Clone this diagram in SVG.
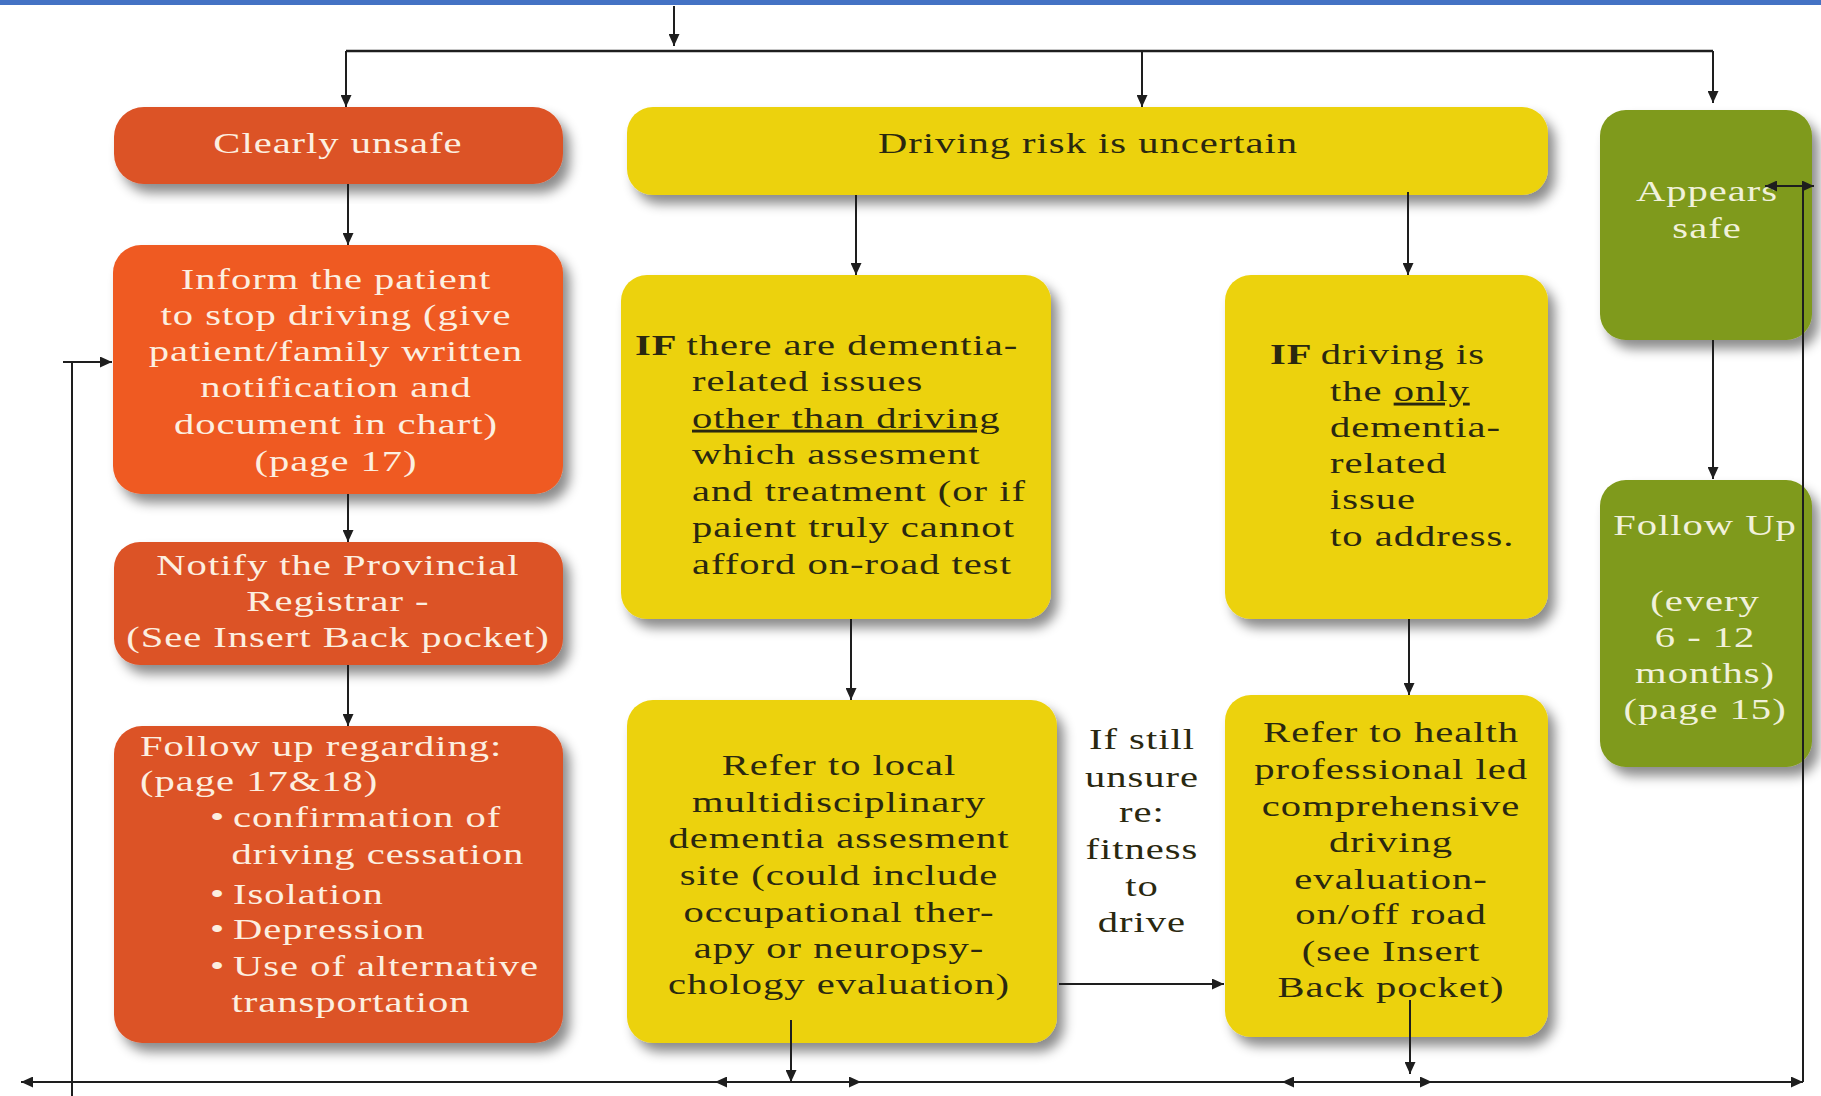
<svg xmlns="http://www.w3.org/2000/svg" width="1821" height="1096" viewBox="0 0 1821 1096">
<style>
.t{font-family:"Liberation Serif","Times New Roman",serif;font-size:29px;letter-spacing:0.7px}
.c{text-anchor:middle}
.lt{fill:#FCEFE0}
.gl{fill:#F1F1DA}
.dk{fill:#2A2810}
.b{font-weight:bold}
.u{text-decoration:underline}
.ln{fill:none;stroke:#1E1E1E;stroke-width:2}
.ar{marker-end:url(#ah)}
.box{filter:url(#sh)}
.or1{fill:#DC5327}
.or2{fill:#EF5A22}
.ye{fill:#ECD20F}
.gr{fill:#7F9A1A}
</style>
<defs>
<filter id="sh" x="-10%" y="-10%" width="130%" height="135%">
<feDropShadow dx="7" dy="9" stdDeviation="6" flood-color="#000" flood-opacity="0.45"/>
</filter>
<marker id="ah" markerUnits="userSpaceOnUse" markerWidth="12" markerHeight="11" refX="12" refY="5.5" orient="auto">
<path d="M0,0 L12,5.5 L0,11 z" fill="#1E1E1E"/>
</marker>
</defs>
<rect x="0" y="0" width="1821" height="1096" fill="#FFFFFF"/>
<rect x="0" y="0" width="1821" height="5" fill="#4472C4"/>

<g id="n-unsafe">
<rect class="box or1" x="114" y="107" width="449" height="77" rx="30"/>
<g transform="scale(1.4,1)"><text class="t c lt" x="241.4" y="153">Clearly unsafe</text></g>
</g>

<g id="n-uncertain">
<rect class="box ye" x="627" y="107" width="921" height="88" rx="26"/>
<g transform="scale(1.4,1)"><text class="t c dk" x="777.1" y="153">Driving risk is uncertain</text></g>
</g>

<g id="n-appears">
<rect class="box gr" x="1600" y="110" width="212" height="230" rx="26"/>
<g transform="scale(1.4,1)"><text class="t c gl" x="1219.3" y="201">Appears</text><text class="t c gl" x="1219.3" y="238">safe</text></g>
</g>

<g id="n-inform">
<rect class="box or2" x="113" y="245" width="450" height="249" rx="28"/>
<g transform="scale(1.4,1)" class="t c lt">
<text x="240" y="289">Inform the patient</text>
<text x="240" y="325">to stop driving (give</text>
<text x="240" y="361">patient/family written</text>
<text x="240" y="397">notification and</text>
<text x="240" y="434">document in chart)</text>
<text x="240" y="471">(page 17)</text>
</g>
</g>

<g id="n-notify">
<rect class="box or1" x="114" y="542" width="449" height="123" rx="26"/>
<g transform="scale(1.4,1)" class="t c lt">
<text x="241.4" y="575">Notify the Provincial</text>
<text x="241.4" y="611">Registrar -</text>
<text x="241.4" y="647">(See Insert Back pocket)</text>
</g>
</g>

<g id="n-followup-unsafe">
<rect class="box or1" x="114" y="726" width="449" height="317" rx="28"/>
<g transform="scale(1.4,1)" class="t lt">
<text x="100" y="756">Follow up regarding:</text>
<text x="100" y="791">(page 17&amp;18)</text>
<text y="827"><tspan x="150">•</tspan><tspan x="166.4">confirmation of</tspan></text>
<text x="165.3" y="864">driving cessation</text>
<text y="904"><tspan x="150">•</tspan><tspan x="166.4">Isolation</tspan></text>
<text y="939"><tspan x="150">•</tspan><tspan x="166.4">Depression</tspan></text>
<text y="976"><tspan x="150">•</tspan><tspan x="166.4">Use of alternative</tspan></text>
<text x="165.3" y="1012">transportation</text>
</g>
</g>

<g id="n-if-other">
<rect class="box ye" x="621" y="275" width="430" height="344" rx="26"/>
<g transform="scale(1.4,1)" class="t dk">
<text y="355"><tspan x="453.6" class="b">IF</tspan><tspan x="490.3">there are dementia-</tspan></text>
<text x="494.3" y="391.5">related issues</text>
<text x="494.3" y="428"><tspan class="u">other than driving</tspan></text>
<text x="494.3" y="464.5">which assesment</text>
<text x="494.3" y="501">and treatment (or if</text>
<text x="494.3" y="537.5">paient truly cannot</text>
<text x="494.3" y="574">afford on-road test</text>
</g>
</g>

<g id="n-if-only">
<rect class="box ye" x="1225" y="275" width="323" height="344" rx="26"/>
<g transform="scale(1.4,1)" class="t dk">
<text y="364"><tspan x="907.1" class="b">IF</tspan><tspan x="943.4">driving is</tspan></text>
<text x="950" y="401">the <tspan class="u">only</tspan></text>
<text x="950" y="437">dementia-</text>
<text x="950" y="473">related</text>
<text x="950" y="509">issue</text>
<text x="950" y="546">to address.</text>
</g>
</g>

<g id="n-refer-local">
<rect class="box ye" x="627" y="700" width="430" height="343" rx="26"/>
<g transform="scale(1.4,1)" class="t c dk">
<text x="599.3" y="775">Refer to local</text>
<text x="599.3" y="812">multidisciplinary</text>
<text x="599.3" y="848">dementia assesment</text>
<text x="599.3" y="885">site (could include</text>
<text x="599.3" y="922">occupational ther-</text>
<text x="599.3" y="958">apy or neuropsy-</text>
<text x="599.3" y="994">chology evaluation)</text>
</g>
</g>

<g id="n-still-unsure">
<g transform="scale(1.4,1)" class="t c dk">
<text x="815.7" y="749">If still</text>
<text x="815.7" y="787">unsure</text>
<text x="815.7" y="822">re:</text>
<text x="815.7" y="859">fitness</text>
<text x="815.7" y="896">to</text>
<text x="815.7" y="932">drive</text>
</g>
</g>

<g id="n-refer-health">
<rect class="box ye" x="1225" y="695" width="323" height="342" rx="26"/>
<g transform="scale(1.4,1)" class="t c dk">
<text x="993.6" y="742">Refer to health</text>
<text x="993.6" y="779">professional led</text>
<text x="993.6" y="816">comprehensive</text>
<text x="993.6" y="852">driving</text>
<text x="993.6" y="889">evaluation-</text>
<text x="993.6" y="924">on/off road</text>
<text x="993.6" y="961">(see Insert</text>
<text x="993.6" y="997">Back pocket)</text>
</g>
</g>

<g id="n-followup-safe">
<rect class="box gr" x="1600" y="480" width="212" height="287" rx="26"/>
<g transform="scale(1.4,1)" class="t c gl">
<text x="1217.9" y="535">Follow Up</text>
<text x="1217.9" y="611">(every</text>
<text x="1217.9" y="647">6 - 12</text>
<text x="1217.9" y="683">months)</text>
<text x="1217.9" y="719">(page 15)</text>
</g>
</g>

<g id="connectors">
<path class="ln ar" d="M674,6 V46"/>
<path class="ln" style="stroke-width:2.6" d="M346,51 H1713"/>
<path class="ln ar" d="M346,51 V107"/>
<path class="ln ar" d="M1142,51 V107"/>
<path class="ln ar" d="M1713,51 V103"/>
<path class="ln ar" d="M348,184 V245"/>
<path class="ln ar" d="M348,494 V542"/>
<path class="ln ar" d="M348,665 V726"/>
<path class="ln ar" d="M856,195 V275"/>
<path class="ln ar" d="M1408,192 V275"/>
<path class="ln ar" d="M851,619 V700"/>
<path class="ln ar" d="M1409,619 V695"/>
<path class="ln ar" d="M1713,340 V479"/>
<path class="ln ar" d="M1059,984 H1224"/>
<path class="ln ar" d="M791,1020 V1082"/>
<path class="ln ar" d="M1410,1000 V1074"/>
<path class="ln ar" d="M791,1082 H715"/>
<path class="ln ar" d="M715,1082 H21"/>
<path class="ln ar" d="M791,1082 H861"/>
<path class="ln" d="M861,1082 H1282"/>
<path class="ln ar" d="M1410,1082 H1282"/>
<path class="ln ar" d="M1410,1082 H1432"/>
<path class="ln ar" d="M1432,1082 H1803"/>
<path class="ln" d="M1803,1082 V186"/>
<path class="ln ar" d="M1803,186 H1765"/>
<path class="ln ar" d="M1803,186 H1814"/>
<path class="ln" d="M72,1096 V362"/>
<path class="ln ar" d="M63,362 H112"/>
</g>
</svg>
